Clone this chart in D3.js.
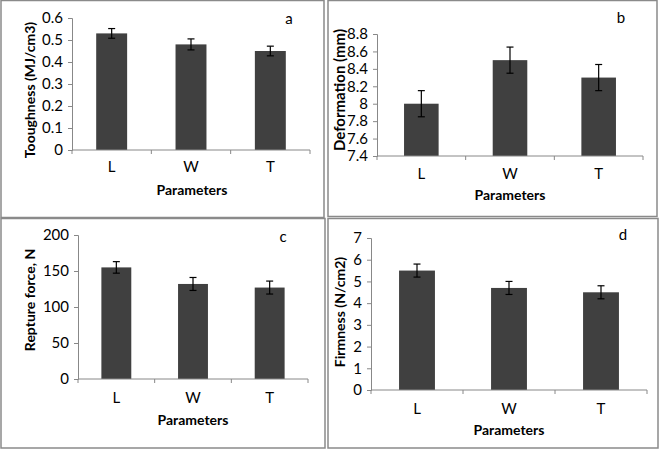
<!DOCTYPE html>
<html>
<head>
<meta charset="utf-8">
<script src="https://cdn.jsdelivr.net/npm/d3@7"></script>
<style>
  body { margin: 0; background: #fff; }
  svg { display: block; }
  text { font-family: Lato, "Open Sans", sans-serif; fill: #000; }
</style>
</head>
<body>
<svg id="chart" width="661" height="450"></svg>
<script>
// categories shared by all panels
const categories = ['L', 'W', 'T']

// panel a: toughness
const toughness = [0.53, 0.48, 0.45]
const toughnessErr = [0.022, 0.025, 0.022]
const toughnessTicks = [0, 0.1, 0.2, 0.3, 0.4, 0.5, 0.6]

// panel b: deformation
const deformation = [8.0, 8.5, 8.3]
const deformationErr = [0.15, 0.15, 0.15]
const deformationTicks = [7.4, 7.6, 7.8, 8, 8.2, 8.4, 8.6, 8.8]

// panel c: rupture force
const rupture = [155, 132, 127]
const ruptureErr = [8, 9, 9]
const ruptureTicks = [0, 50, 100, 150, 200]

// panel d: firmness
const firmness = [5.5, 4.7, 4.5]
const firmnessErr = [0.3, 0.3, 0.3]
const firmnessTicks = [0, 1, 2, 3, 4, 5, 6, 7]

const svg = d3.select('#chart')

// panel frames
const frames = [
  {x: 1, y: 0.5, w: 323, h: 217},
  {x: 328, y: 0.5, w: 329, h: 216},
  {x: 1, y: 218.5, w: 324, h: 229.5},
  {x: 328, y: 218.5, w: 330, h: 229.5}
]
frames.forEach(f => {
  svg.append('rect')
    .attr('x', f.x).attr('y', f.y)
    .attr('width', f.w).attr('height', f.h)
    .attr('fill', 'none')
    .attr('stroke', '#8a8a8a')
    .attr('stroke-width', 1.5)
})

function drawPanel(p) {
  const g = svg.append('g')
  const x = d3.scaleBand()
    .domain(categories)
    .range([p.x0, p.x1])
    .paddingInner(0.61)
    .paddingOuter(0.305)
  const y = d3.scaleLinear()
    .domain([p.ticks[0], p.ticks[p.ticks.length - 1]])
    .range([p.y0, p.y1])

  // bars
  g.selectAll('rect.bar')
    .data(p.values)
    .enter()
    .append('rect')
    .attr('class', 'bar')
    .attr('x', (d, i) => x(categories[i]))
    .attr('width', x.bandwidth())
    .attr('y', d => y(d))
    .attr('height', d => y(p.ticks[0]) - y(d))
    .attr('fill', '#404040')

  // error bars
  const cx = i => x(categories[i]) + x.bandwidth() / 2
  p.values.forEach((v, i) => {
    const top = y(v + p.err[i]), bot = y(v - p.err[i])
    g.append('line').attr('x1', cx(i)).attr('x2', cx(i)).attr('y1', top).attr('y2', bot)
      .attr('stroke', '#000').attr('stroke-width', 1.2)
    ;[top, bot].forEach(yy => {
      g.append('line').attr('x1', cx(i) - 3.5).attr('x2', cx(i) + 3.5).attr('y1', yy).attr('y2', yy)
        .attr('stroke', '#000').attr('stroke-width', 1.2)
    })
  })

  // y axis
  const yAxis = g.append('g')
    .attr('transform', `translate(${p.x0},0)`)
    .call(d3.axisLeft(y).tickValues(p.ticks).tickSize(4).tickPadding(5)
      .tickFormat(d => d3.format('~g')(d)))
  yAxis.select('.domain').attr('stroke', '#888').attr('stroke-width', 1)
  yAxis.selectAll('line').attr('stroke', '#888')
  yAxis.selectAll('text').style('font-size', '15px').attr('fill', '#000')

  // x axis (ticks between categories)
  g.append('line').attr('x1', p.x0).attr('x2', p.x1).attr('y1', p.y0).attr('y2', p.y0)
    .attr('stroke', '#888')
  const step = (p.x1 - p.x0) / categories.length
  d3.range(categories.length + 1).forEach(k => {
    g.append('line').attr('x1', p.x0 + k * step).attr('x2', p.x0 + k * step)
      .attr('y1', p.y0).attr('y2', p.y0 + 4).attr('stroke', '#888')
  })
  g.selectAll('text.cat')
    .data(categories)
    .enter()
    .append('text')
    .attr('class', 'cat')
    .attr('x', d => x(d) + x.bandwidth() / 2)
    .attr('y', p.catY)
    .attr('text-anchor', 'middle')
    .style('font-size', '15px')
    .text(d => d)

  // axis titles
  g.append('text')
    .attr('x', (p.x0 + p.x1) / 2 + p.xTitleDx)
    .attr('y', p.xTitleY)
    .attr('text-anchor', 'middle')
    .style('font-size', '14px')
    .style('font-weight', 'bold')
    .text('Parameters')
  g.append('text')
    .attr('transform', `translate(${p.yTitleX},${p.yTitleY}) rotate(-90)`)
    .attr('text-anchor', 'middle')
    .style('font-size', p.yTitleSize || '14px')
    .style('font-weight', 'bold')
    .text(p.yTitle)

  // panel letter
  g.append('text')
    .attr('x', p.letterX).attr('y', p.letterY)
    .attr('text-anchor', 'middle')
    .style('font-size', '15px')
    .text(p.letter)
}

drawPanel({
  values: toughness, err: toughnessErr, ticks: toughnessTicks,
  x0: 72, x1: 310, y0: 150, y1: 18,
  catY: 172, xTitleY: 195, xTitleDx: 1, yTitleX: 35, yTitleY: 90,
  yTitle: 'Tooughness (MJ/cm3)', letter: 'a', letterX: 289, letterY: 24
})
drawPanel({
  values: deformation, err: deformationErr, ticks: deformationTicks,
  x0: 377, x1: 643, y0: 156, y1: 34,
  catY: 179, xTitleY: 200, xTitleDx: 0, yTitleX: 345, yTitleY: 90, yTitleSize: '15px',
  yTitle: 'Deformation (mm)', letter: 'b', letterX: 621, letterY: 23
})
drawPanel({
  values: rupture, err: ruptureErr, ticks: ruptureTicks,
  x0: 78, x1: 308, y0: 379, y1: 235,
  catY: 403, xTitleY: 425, xTitleDx: 0, yTitleX: 35, yTitleY: 300,
  yTitle: 'Repture force, N', letter: 'c', letterX: 283, letterY: 242
})
drawPanel({
  values: firmness, err: firmnessErr, ticks: firmnessTicks,
  x0: 371, x1: 647, y0: 390, y1: 238,
  catY: 414, xTitleY: 435, xTitleDx: 0, yTitleX: 345, yTitleY: 312,
  yTitle: 'Firmness (N/cm2)', letter: 'd', letterX: 623, letterY: 240
})
</script>
</body>
</html>
